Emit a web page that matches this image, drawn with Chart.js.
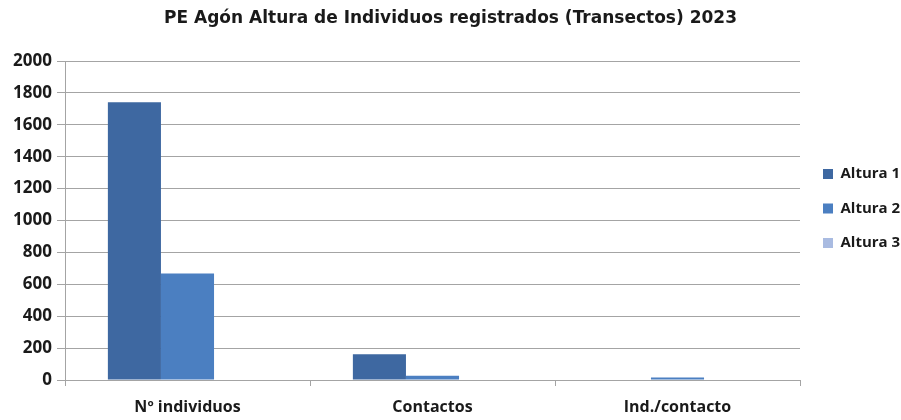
<!DOCTYPE html>
<html>
<head>
<meta charset="utf-8">
<script src="https://cdn.jsdelivr.net/npm/chart.js@4.4.1/dist/chart.umd.min.js"></script>
<style>
  html, body { margin: 0; padding: 0; background: #fff; }
  #wrap { width: 901px; height: 420px; }
</style>
</head>
<body>
<div id="wrap"><canvas id="chart" width="901" height="420"></canvas></div>
<script>
// datos
const categories = ['Nº individuos', 'Contactos', 'Ind./contacto'];
const seriesNames = ['Altura 1', 'Altura 2', 'Altura 3'];
const altura1 = [1742, 162, 0];
const altura2 = [668, 26, 16];
const altura3 = [0, 0, 0];
const yTicks = [0, 200, 400, 600, 800, 1000, 1200, 1400, 1600, 1800, 2000];

const colors = ['#3e68a1', '#4b7fc1', '#a9bbe1'];
const fontFamily = '"Open Sans", Lato, sans-serif';
const titleFont = '"DejaVu Sans", "Open Sans", sans-serif';
const textColor = '#1a1a1a';
const lineColor = '#a4a4a4';

const ctx = document.getElementById('chart').getContext('2d');
new Chart(ctx, {
    type: 'bar',
    data: {
        labels: categories,
        datasets: [altura1, altura2, altura3].map((d, i) => ({
            label: seriesNames[i],
            data: d,
            backgroundColor: colors[i],
            borderWidth: 0,
            barPercentage: 1,
            categoryPercentage: 0.65
        }))
    },
    options: {
        responsive: false,
        animation: false,
        layout: { padding: { left: 0, right: 0, top: 0, bottom: 3 } },
        plugins: {
            title: {
                display: true,
                text: 'PE Agón Altura de Individuos registrados (Transectos) 2023',
                color: textColor,
                font: { family: titleFont, size: 17, weight: 'bold' },
                padding: { top: 8, bottom: 32.6 }
            },
            legend: {
                position: 'right',
                fullSize: true,
                maxWidth: 97.5,
                labels: {
                    color: textColor,
                    font: { family: fontFamily, size: 15, weight: 'bold' },
                    boxWidth: 10,
                    boxHeight: 10,
                    padding: 19.5
                }
            },
            tooltip: { enabled: false }
        },
        scales: {
            x: {
                afterFit: (axis) => { axis.height = 37; },
                grid: {
                    display: true,
                    drawOnChartArea: false,
                    drawTicks: true,
                    tickLength: 6,
                    color: lineColor
                },
                border: { color: lineColor },
                ticks: {
                    color: textColor,
                    font: { family: fontFamily, size: 16, weight: 'bold' },
                    padding: 12
                }
            },
            y: {
                min: 0,
                max: 2000,
                afterBuildTicks: (axis) => { axis.ticks = yTicks.map(v => ({ value: v })); },
                afterFit: (axis) => { axis.width = 65; },
                grid: {
                    color: lineColor,
                    tickLength: 8
                },
                border: { color: lineColor },
                ticks: {
                    color: textColor,
                    font: { family: fontFamily, size: 17, weight: 'bold' },
                    padding: 5,
                    callback: (v) => String(v)
                }
            },
            // hueco entre el área del gráfico y la leyenda
            gap: {
                type: 'linear',
                position: 'right',
                display: true,
                grid: { display: false },
                border: { display: false },
                ticks: { display: false },
                afterFit: (axis) => { axis.width = 3.5; }
            }
        }
    }
});
</script>
</body>
</html>
